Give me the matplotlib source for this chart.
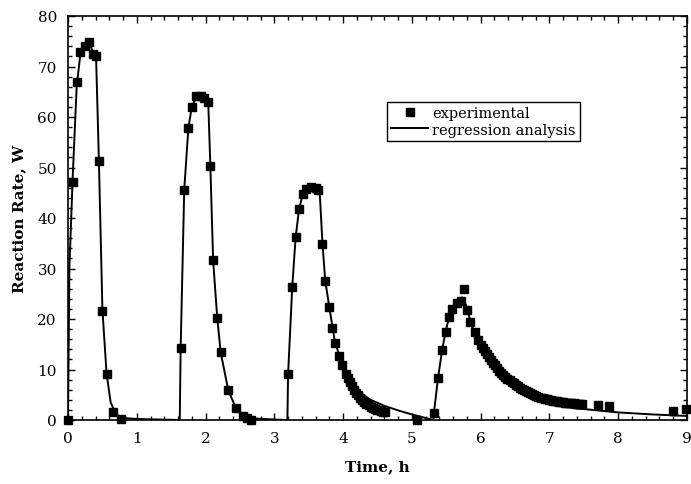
#!/usr/bin/env python3
"""
plot.py — Reaction rate vs time: experimental points and regression curve.
"""

import matplotlib
matplotlib.use("Agg")
import matplotlib.pyplot as plt
from matplotlib.ticker import MultipleLocator

# ---------------------------------------------------------------------------
# Data
# ---------------------------------------------------------------------------

# experimental points
exp_time = [
    # run 1
    0.0, 0.068, 0.126, 0.174, 0.247, 0.31, 0.36, 0.407, 0.45, 0.499, 0.56, 0.66, 0.77,
    # run 2
    1.638, 1.69, 1.749, 1.80, 1.86, 1.93, 1.98, 2.03, 2.07, 2.11, 2.17, 2.22,
    2.33, 2.44, 2.55, 2.60, 2.66,
    # run 3
    3.20, 3.26, 3.31, 3.36, 3.41, 3.46, 3.54, 3.60, 3.64, 3.70, 3.74, 3.80, 3.84,
    3.88, 3.94, 3.99, 4.04, 4.07, 4.10, 4.13, 4.16, 4.19, 4.22, 4.25, 4.28, 4.31,
    4.34, 4.37, 4.40, 4.43, 4.46, 4.49, 4.52, 4.55, 4.58, 4.61,
    5.07,
    # run 4
    5.32, 5.38, 5.44, 5.49, 5.54, 5.59, 5.65, 5.71, 5.76, 5.80, 5.85, 5.92, 5.96,
    6.00, 6.03, 6.06, 6.09, 6.12, 6.15, 6.18, 6.21, 6.24, 6.27, 6.30, 6.33, 6.36,
    6.39, 6.42, 6.45, 6.48, 6.51, 6.54, 6.57, 6.60, 6.63, 6.66, 6.69, 6.72, 6.75,
    6.78, 6.81, 6.84, 6.87, 6.90, 6.93, 6.96, 6.99, 7.02, 7.05, 7.08, 7.11, 7.14,
    7.17, 7.20, 7.23, 7.26, 7.29, 7.32, 7.35, 7.38, 7.41, 7.44, 7.47,
    7.71, 7.86, 8.80, 8.99,
]
exp_rate = [
    # run 1
    0.0, 47.2, 66.9, 72.8, 74.1, 74.9, 72.5, 72.0, 51.2, 21.6, 9.1, 1.5, 0.1,
    # run 2
    14.3, 45.6, 57.8, 62.0, 64.1, 64.1, 63.7, 62.9, 50.2, 31.6, 20.2, 13.4,
    5.9, 2.4, 0.7, 0.4, 0.0,
    # run 3
    9.1, 26.3, 36.2, 41.8, 44.8, 45.8, 46.2, 46.0, 45.6, 34.9, 27.6, 22.3, 18.2,
    15.2, 12.7, 10.8, 9.1, 8.3, 7.5, 6.8, 6.0, 5.4, 4.9, 4.3, 3.9, 3.5,
    3.2, 2.9, 2.6, 2.4, 2.2, 2.0, 1.9, 1.7, 1.6, 1.5,
    0.0,
    # run 4
    1.4, 8.3, 13.9, 17.4, 20.3, 22.0, 23.1, 23.5, 25.9, 21.8, 19.5, 17.4, 15.8,
    14.8, 14.2, 13.6, 13.0, 12.4, 11.8, 11.3, 10.8, 10.3, 9.8, 9.4, 9.0, 8.6,
    8.2, 7.9, 7.6, 7.3, 7.0, 6.7, 6.4, 6.2, 5.9, 5.7, 5.5, 5.3, 5.1,
    4.9, 4.7, 4.6, 4.4, 4.3, 4.2, 4.1, 4.0, 3.9, 3.8, 3.75, 3.7, 3.6,
    3.55, 3.5, 3.45, 3.4, 3.35, 3.3, 3.3, 3.25, 3.2, 3.2, 3.2,
    3.0, 2.8, 1.8, 2.2,
]

# regression curve
fit_time = [
    0.0, 0.02, 0.068, 0.126, 0.18, 0.25, 0.31, 0.37, 0.41, 0.45, 0.50, 0.56,
    0.62, 0.70, 0.80, 1.00, 1.30, 1.62,
    1.625, 1.638, 1.69, 1.75, 1.80, 1.86, 1.93, 1.99, 2.04, 2.07, 2.11, 2.17,
    2.22, 2.33, 2.44, 2.55, 2.70, 3.00, 3.185,
    3.19, 3.20, 3.26, 3.31, 3.36, 3.41, 3.46, 3.54, 3.62, 3.66, 3.70, 3.74,
    3.80, 3.88, 3.99, 4.10, 4.25, 4.40, 4.60, 4.80, 5.00, 5.20, 5.31,
    5.32, 5.38, 5.44, 5.49, 5.54, 5.60, 5.66, 5.73, 5.80, 5.85, 5.92, 6.00,
    6.10, 6.20, 6.35, 6.50, 6.70, 6.90, 7.10, 7.40, 7.70, 8.00, 8.50, 9.00,
]
fit_rate = [
    0.0, 30.0, 48.0, 66.0, 72.5, 74.3, 74.8, 72.5, 71.0, 51.0, 22.0, 9.3,
    3.5, 1.0, 0.4, 0.2, 0.1, 0.0,
    0.0, 14.3, 45.6, 57.8, 62.0, 63.8, 64.0, 63.4, 62.6, 50.2, 31.6, 20.2,
    13.4, 5.9, 2.4, 0.8, 0.3, 0.1, 0.0,
    0.0, 9.1, 26.3, 36.2, 41.8, 44.5, 45.6, 46.1, 45.8, 45.0, 34.9, 27.6,
    22.3, 15.5, 11.0, 7.9, 5.4, 4.0, 2.8, 1.9, 1.1, 0.4, 0.0,
    1.4, 8.3, 13.9, 17.5, 20.3, 22.3, 23.6, 24.3, 22.3, 19.5, 16.8, 14.2,
    11.8, 9.9, 7.8, 6.2, 4.7, 3.7, 2.9, 2.3, 1.9, 1.5, 1.1, 0.8,
]

X_TICKS = list(range(0, 10))
Y_TICKS = list(range(0, 90, 10))

# ---------------------------------------------------------------------------
# Plot
# ---------------------------------------------------------------------------

plt.rcParams["font.family"] = ["DejaVu Serif"]

fig = plt.figure(figsize=(6.91, 4.85), dpi=100)
ax = fig.add_axes([68 / 691, 64 / 485, 619 / 691, 404 / 485])

ax.plot(fit_time, fit_rate, color="black", lw=1.4, label="regression analysis",
        zorder=2)
ax.plot(exp_time, exp_rate, ls="none", marker="s", ms=6, color="black",
        label="experimental", zorder=3, clip_on=False)

ax.set_xlim(0, 9)
ax.set_ylim(0, 80)
ax.set_xticks(X_TICKS)
ax.set_yticks(Y_TICKS)
ax.xaxis.set_minor_locator(MultipleLocator(0.2))
ax.yaxis.set_minor_locator(MultipleLocator(2))
ax.tick_params(which="both", direction="in", top=True, right=True,
               labelsize=11, width=1)
ax.tick_params(which="major", length=5, pad=8)
ax.tick_params(which="minor", length=3)
for s in ax.spines.values():
    s.set_linewidth(1.2)

ax.set_xlabel("Time, h", fontsize=11, fontweight="bold", labelpad=10)
ax.set_ylabel("Reaction Rate, W", fontsize=11, fontweight="bold", labelpad=8)

handles, labels = ax.get_legend_handles_labels()
leg = ax.legend(handles[::-1], labels[::-1], loc="upper left",
                bbox_to_anchor=(387 / 691, 1 - 103 / 485),
                bbox_transform=fig.transFigure, borderaxespad=0,
                fancybox=False, edgecolor="black", framealpha=1,
                fontsize=10.5, handlelength=2.5, handletextpad=0.3,
                borderpad=0.3, labelspacing=0.15, markerscale=0.85)
leg.get_frame().set_linewidth(1.0)

fig.savefig("out.png", dpi=100)
